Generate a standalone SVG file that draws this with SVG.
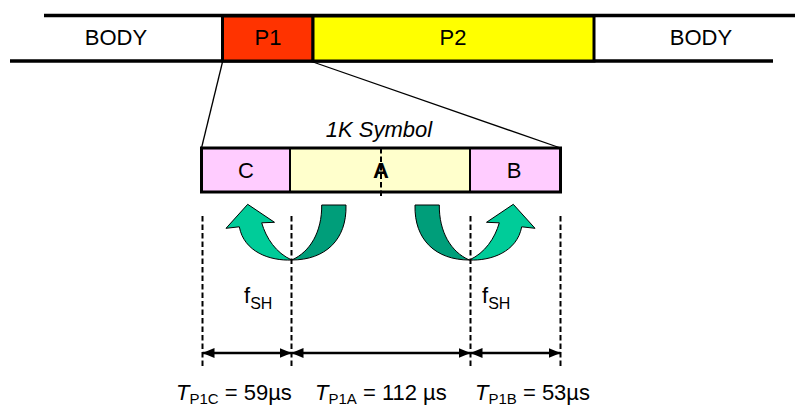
<svg xmlns="http://www.w3.org/2000/svg" width="795" height="408" viewBox="0 0 795 408">
<style>
text{font-family:"Liberation Sans",Arial,sans-serif;font-size:22px;fill:#000}
.lbl{text-anchor:middle}
.seg{stroke:#000;stroke-width:3}
.thin{stroke:#000;stroke-width:1.3;fill:none}
.dash{stroke:#000;stroke-width:2;stroke-dasharray:5.5 3;fill:none}
.dim{stroke:#000;stroke-width:2.5;fill:none;marker-start:url(#ah);marker-end:url(#ah)}
.lg{fill:#00CC99;stroke:#000;stroke-width:1}
.dg{fill:#009E7A;stroke:#000;stroke-width:1}
.sub{font-size:15px}
</style>
<defs>
<marker id="ah" viewBox="0 0 12 10" refX="12" refY="5" markerWidth="12" markerHeight="10" markerUnits="userSpaceOnUse" orient="auto-start-reverse">
<path d="M0,0 L12,5 L0,10 z" fill="#000"/>
</marker>
<g id="arrowpair">
<path class="dg" d="M321.7,205 L346,205 C347,240 325,260 291.7,260 C310,252 322,232 321.7,205 z"/>
<path class="lg" d="M247.7,204.3 L274.5,222.3 L261.7,222.8 C266,238 276,253 291.7,260 C270,261 244,252 239.3,226.8 L226,228.3 z"/>
</g>
</defs>
<g id="stream">
<line x1="44" y1="15.5" x2="795" y2="15.5" stroke="#000" stroke-width="3.5"/>
<line x1="10" y1="61" x2="773" y2="61" stroke="#000" stroke-width="3.5"/>
</g>
<g id="body-left"><text class="lbl" x="116" y="45">BODY</text></g>
<g id="p1"><rect class="seg" x="222.5" y="16" width="90.5" height="45" fill="#FF3300"/><text class="lbl" x="268" y="45">P1</text></g>
<g id="p2"><rect class="seg" x="313" y="16" width="281" height="45" fill="#FFFF00"/><text class="lbl" x="453" y="45">P2</text></g>
<g id="body-right"><text class="lbl" x="701" y="45">BODY</text></g>
<g id="symbol">
<text class="lbl" x="379" y="137" font-style="italic" font-size="24.5">1K Symbol</text>
</g>
<g id="c"><rect x="201.5" y="148" width="88.5" height="44" fill="#FFCCFF" stroke="#000" stroke-width="2"/><text class="lbl" x="246" y="178">C</text></g>
<g id="a"><rect x="290" y="148" width="180" height="44" fill="#FFFFCC" stroke="#000" stroke-width="2"/><text class="lbl" x="381" y="178" font-weight="bold">A</text></g>
<g id="b"><rect x="470" y="148" width="90.5" height="44" fill="#FFCCFF" stroke="#000" stroke-width="2"/><text class="lbl" x="514" y="178">B</text></g>
<rect x="201.5" y="148" width="359" height="44" fill="none" stroke="#000" stroke-width="3"/>
<g id="connectors">
<line class="thin" x1="222.5" y1="62" x2="201.5" y2="148"/>
<line class="thin" x1="313" y1="62" x2="560.5" y2="148"/>
<line class="dash" x1="381" y1="148" x2="381" y2="196"/>
<use href="#arrowpair"/>
<use href="#arrowpair" transform="translate(761,0) scale(-1,1)"/>
<line class="dash" x1="202.5" y1="216" x2="202.5" y2="368"/>
<line class="dash" x1="291.5" y1="216" x2="291.5" y2="368"/>
<line class="dash" x1="470.5" y1="216" x2="470.5" y2="368"/>
<line class="dash" x1="560.5" y1="216" x2="560.5" y2="368"/>
<line class="dim" x1="202.5" y1="353" x2="291.5" y2="353"/>
<line class="dim" x1="291.5" y1="353" x2="470.5" y2="353"/>
<line class="dim" x1="470.5" y1="353" x2="560.5" y2="353"/>
</g>
<g id="labels">
<text x="244" y="303" font-size="25">f<tspan font-size="16" dy="6">SH</tspan></text>
<text x="482" y="303" font-size="25">f<tspan font-size="16" dy="6">SH</tspan></text>
<text x="176" y="400" font-size="22.5"><tspan font-style="italic">T</tspan><tspan class="sub" dy="4">P1C</tspan><tspan dy="-4"> = 59µs</tspan></text>
<text x="315" y="400" font-size="22.5"><tspan font-style="italic">T</tspan><tspan class="sub" dy="4">P1A</tspan><tspan dy="-4"> = 112 µs</tspan></text>
<text x="475" y="400" font-size="22.5"><tspan font-style="italic">T</tspan><tspan class="sub" dy="4">P1B</tspan><tspan dy="-4"> = 53µs</tspan></text>
</g>
</svg>
